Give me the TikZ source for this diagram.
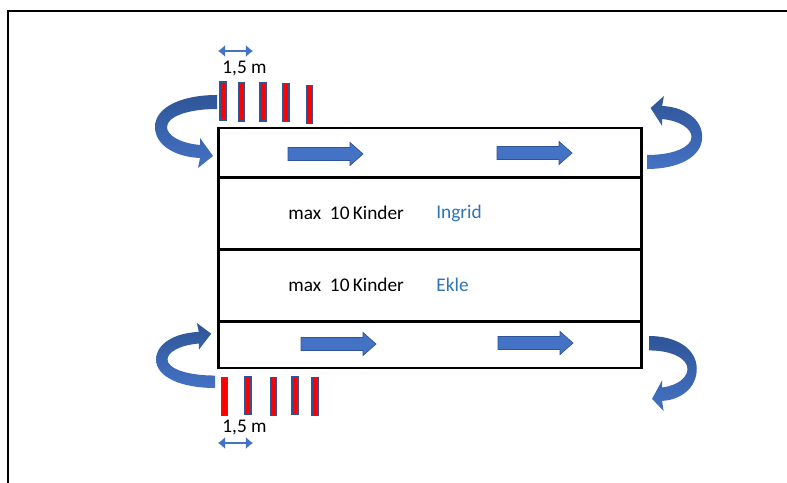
\documentclass[tikz,border=0pt]{standalone}
\usepackage{fontspec}
\setmainfont{Carlito}
\usepackage{xcolor}
\usepackage{tikz}
\usetikzlibrary{arrows.meta, positioning}

\definecolor{officeblue}{RGB}{68,114,196}
\definecolor{officedark}{RGB}{47,85,151}
\definecolor{namecolor}{RGB}{46,117,182}

\tikzset{
  lane/.style={draw, line width=1.7pt, minimum width=8.48cm, inner sep=0pt, outer sep=0pt},
  span/.style={draw=officeblue, line width=1.5pt, {Latex[length=4pt,width=7pt]}-{Latex[length=4pt,width=7pt]}},
  pics/blockarrow/.style={code={
    \fill[officeblue, draw=officedark, line width=0.4pt]
      (0,-6.5) -- (62,-6.5) -- (62,-11.5) -- (75,0) -- (62,11.5) -- (62,6.5) -- (0,6.5) -- cycle;
  }},
  pics/uturn/.style={code={
    \shade[top color=officedark, bottom color=officeblue]
      (0,0) .. controls (-35,0) and (-62,12) .. (-62,32)
      .. controls (-62,50) and (-42,62) .. (-17,63)
      -- (-19,73) -- (-4,61) -- (-17,43) -- (-17,50)
      .. controls (-38,48) and (-50,40) .. (-50,32)
      .. controls (-50,22) and (-30,14) .. (0,14) -- cycle;
  }}
}

\begin{document}
\begin{tikzpicture}[x=0.02cm, y=-0.02cm, font=\fontsize{11}{13}\selectfont]
  \useasboundingbox (0,0) rectangle (787,483);
  % frame
  \draw[line width=1.2pt] (8,483) -- (8,11) -- (787,11);

  % lanes
  \node[lane, minimum height=0.98cm] (lane1) at (430,152.5) {};
  \node[lane, minimum height=1.44cm] (lane2) at (430,213) {};
  \node[lane, minimum height=1.44cm] (lane3) at (430,285) {};
  \node[lane, minimum height=0.94cm] (lane4) at (430,344.5) {};

  % texts
  \node[anchor=west, inner sep=0pt] (max1) at (288,213) {max\ \ 10\,Kinder};
  \node[anchor=west, inner sep=0pt, text=namecolor] (ingrid) at (436,213) {Ingrid};
  \node[anchor=west, inner sep=0pt] (max2) at (288,285) {max\ \ 10\,Kinder};
  \node[anchor=west, inner sep=0pt, text=namecolor] (ekle) at (436,285) {Ekle};

  % straight arrows
  \pic at (288,154) {blockarrow};
  \pic at (497,153) {blockarrow};
  \pic at (301,344) {blockarrow};
  \pic at (498,343) {blockarrow};

  % curved arrows
  \pic at (217,95) {uturn};
  \pic[rotate=180, xscale=0.89] at (647,169) {uturn};
  \pic[xscale=0.95, yscale=-0.89] at (215,388) {uturn};
  \pic[xscale=-0.77, yscale=1.03] at (649,336) {uturn};

  % posts
  \begin{scope}[every node/.style={draw=officedark, line width=0.6pt, fill=red,
      minimum width=0.12cm, minimum height=0.76cm, inner sep=0pt}]
    \foreach \x/\y [count=\i] in {223/101, 241.5/102, 263/102, 286/102.5, 309.5/104.5}
      \node (top\i) at (\x,\y) {};
    \foreach \x/\y [count=\i] in {224.5/396.5, 248/395.5, 273.5/396.5, 295/395.5, 315/396.5}
      \node (bot\i) at (\x,\y) {};
  \end{scope}

  % distances
  \coordinate (tl) at (218,51);
  \coordinate (tr) at (253,51);
  \path[span] (tl) -- (tr);
  \node (toplabel) at (244.5,69) {1,5 m};
  \coordinate (bl) at (218,443);
  \coordinate (br) at (253,443);
  \path[span] (bl) -- (br);
  \node (botlabel) at (244.5,428) {1,5 m};
\end{tikzpicture}
\end{document}
